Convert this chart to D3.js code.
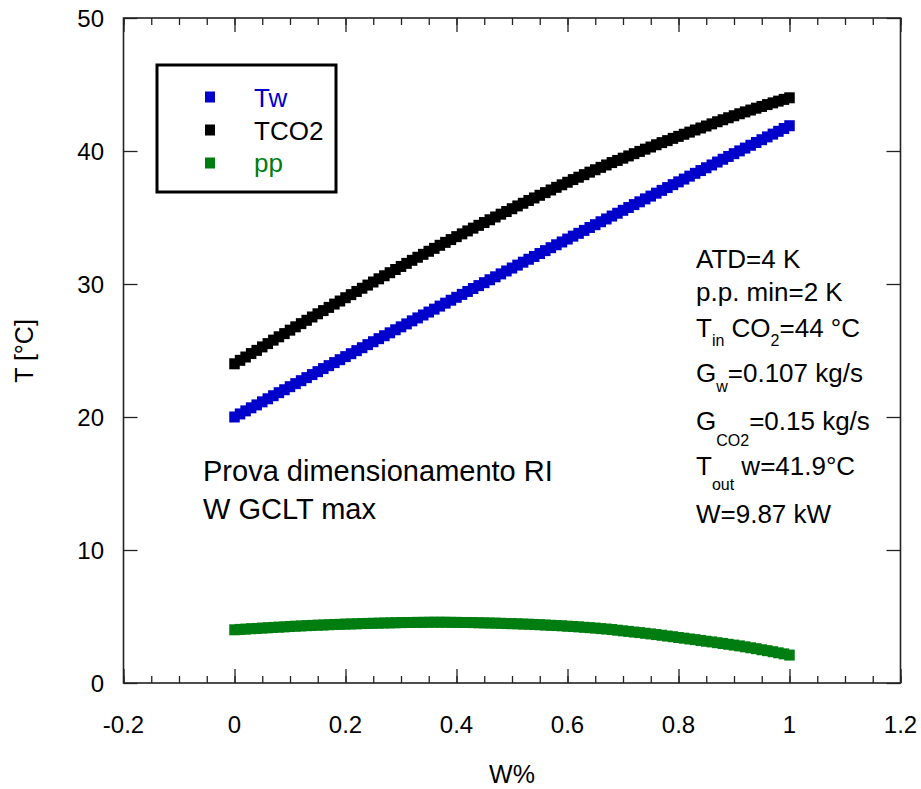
<!DOCTYPE html>
<html>
<head>
<meta charset="utf-8">
<script src="https://cdn.jsdelivr.net/npm/d3@7"></script>
<style>
  html, body { margin: 0; padding: 0; background: #fff; }
  svg { display: block; font-family: "Liberation Sans", Arial, sans-serif; }
</style>
</head>
<body>
<svg id="chart" width="921" height="789"></svg>
<script>
// Sample grid: fraction of exchanged heat W%
const wFrac = d3.range(0, 101).map(i => i / 100);

// Water temperature along the gas cooler [°C]
const tw = [
  20.00, 20.23, 20.46, 20.69, 20.91, 21.14, 21.37, 21.60, 21.83, 22.05,
  22.28, 22.51, 22.73, 22.96, 23.19, 23.41, 23.64, 23.86, 24.09, 24.31,
  24.54, 24.76, 24.99, 25.21, 25.44, 25.66, 25.89, 26.11, 26.33, 26.56,
  26.78, 27.00, 27.23, 27.45, 27.67, 27.89, 28.11, 28.34, 28.56, 28.78,
  29.00, 29.22, 29.44, 29.66, 29.88, 30.10, 30.32, 30.54, 30.76, 30.98,
  31.20, 31.42, 31.64, 31.86, 32.07, 32.29, 32.51, 32.73, 32.95, 33.16,
  33.38, 33.60, 33.81, 34.03, 34.25, 34.46, 34.68, 34.89, 35.11, 35.32,
  35.54, 35.75, 35.97, 36.18, 36.40, 36.61, 36.83, 37.04, 37.25, 37.47,
  37.68, 37.89, 38.11, 38.32, 38.53, 38.74, 38.95, 39.17, 39.38, 39.59,
  39.80, 40.01, 40.22, 40.43, 40.64, 40.85, 41.06, 41.27, 41.48, 41.69,
  41.90
];

// CO2 temperature along the gas cooler [°C]
const tco2 = [
  24.00, 24.26, 24.51, 24.77, 25.01, 25.27, 25.52, 25.78, 26.03, 26.27,
  26.53, 26.78, 27.02, 27.27, 27.52, 27.76, 28.00, 28.24, 28.49, 28.72,
  28.97, 29.20, 29.44, 29.68, 29.92, 30.15, 30.39, 30.62, 30.85, 31.09,
  31.32, 31.55, 31.78, 32.01, 32.23, 32.46, 32.68, 32.91, 33.13, 33.34,
  33.56, 33.77, 33.99, 34.20, 34.41, 34.62, 34.83, 35.04, 35.25, 35.45,
  35.66, 35.87, 36.07, 36.28, 36.47, 36.67, 36.87, 37.07, 37.27, 37.46,
  37.65, 37.85, 38.03, 38.22, 38.41, 38.59, 38.77, 38.95, 39.13, 39.29,
  39.46, 39.63, 39.80, 39.97, 40.14, 40.30, 40.47, 40.63, 40.78, 40.95,
  41.10, 41.26, 41.42, 41.58, 41.73, 41.88, 42.04, 42.20, 42.35, 42.50,
  42.65, 42.80, 42.94, 43.08, 43.22, 43.35, 43.49, 43.62, 43.75, 43.88,
  44.00
];

// Pinch point (temperature difference) [K]
const pp = [
  4.00, 4.03, 4.05, 4.08, 4.10, 4.13, 4.15, 4.18, 4.20, 4.22,
  4.25, 4.27, 4.29, 4.31, 4.33, 4.35, 4.36, 4.38, 4.40, 4.41,
  4.43, 4.44, 4.45, 4.47, 4.48, 4.49, 4.50, 4.51, 4.52, 4.53,
  4.54, 4.55, 4.55, 4.56, 4.56, 4.57, 4.57, 4.57, 4.57, 4.56,
  4.56, 4.55, 4.55, 4.54, 4.53, 4.52, 4.51, 4.50, 4.49, 4.47,
  4.46, 4.45, 4.43, 4.42, 4.40, 4.38, 4.36, 4.34, 4.32, 4.30,
  4.27, 4.25, 4.22, 4.19, 4.16, 4.13, 4.09, 4.06, 4.02, 3.97,
  3.92, 3.88, 3.83, 3.79, 3.74, 3.69, 3.64, 3.59, 3.53, 3.48,
  3.42, 3.37, 3.31, 3.26, 3.20, 3.14, 3.09, 3.03, 2.97, 2.91,
  2.85, 2.79, 2.72, 2.65, 2.58, 2.50, 2.43, 2.35, 2.27, 2.19,
  2.10
];

const seriesNames = ["Tw", "TCO2", "pp"];
const seriesColors = ["#0000cc", "#000000", "#007d10"];
const seriesValues = [tw, tco2, pp];

const xTicks = [-0.2, 0, 0.2, 0.4, 0.6, 0.8, 1, 1.2];
const yTicks = [0, 10, 20, 30, 40, 50];

const svg = d3.select("#chart");
const plotL = 123.5, plotR = 900.5, plotT = 18, plotB = 683;

const x = d3.scaleLinear().domain([-0.2, 1.2]).range([plotL, plotR]);
const y = d3.scaleLinear().domain([0, 50]).range([plotB, plotT]);

// Markers: dense filled squares
const mw = 10.5, mh = 11;
seriesValues.forEach((vals, k) => {
  svg.append("g")
    .attr("fill", seriesColors[k])
    .selectAll("rect")
    .data(vals)
    .join("rect")
    .attr("x", (d, i) => x(wFrac[i]) - mw / 2)
    .attr("y", d => y(d) - mh / 2)
    .attr("width", mw)
    .attr("height", mh);
});

// Axes with inward ticks on all four sides
const minorX = d3.range(-0.2, 1.2001, 0.05);

function styleAxis(g) {
  g.select(".domain").remove();
  g.selectAll(".tick line").attr("stroke", "#222").attr("stroke-width", 1.3);
}

svg.append("g").attr("transform", `translate(0,${plotB})`)
  .call(d3.axisBottom(x).tickValues(minorX).tickSize(-7).tickFormat("")).call(styleAxis);
svg.append("g").attr("transform", `translate(0,${plotB})`)
  .call(d3.axisBottom(x).tickValues(xTicks).tickSize(-14).tickFormat("")).call(styleAxis);
svg.append("g").attr("transform", `translate(0,${plotT})`)
  .call(d3.axisTop(x).tickValues(minorX).tickSize(-7).tickFormat("")).call(styleAxis);
svg.append("g").attr("transform", `translate(0,${plotT})`)
  .call(d3.axisTop(x).tickValues(xTicks).tickSize(-14).tickFormat("")).call(styleAxis);
svg.append("g").attr("transform", `translate(${plotL},0)`)
  .call(d3.axisLeft(y).tickValues(yTicks).tickSize(-14).tickFormat("")).call(styleAxis);
svg.append("g").attr("transform", `translate(${plotR},0)`)
  .call(d3.axisRight(y).tickValues(yTicks).tickSize(-14).tickFormat("")).call(styleAxis);

// Frame
svg.append("rect")
  .attr("x", plotL).attr("y", plotT)
  .attr("width", plotR - plotL).attr("height", plotB - plotT)
  .attr("fill", "none").attr("stroke", "#222").attr("stroke-width", 1.6);

// Tick labels
const fmt = d => String(d);
svg.append("g").selectAll("text").data(xTicks).join("text")
  .attr("x", d => x(d)).attr("y", 733)
  .attr("text-anchor", "middle").attr("font-size", 24)
  .text(fmt);
svg.append("g").selectAll("text").data(yTicks).join("text")
  .attr("x", 104).attr("y", d => y(d) + 8.6)
  .attr("text-anchor", "end").attr("font-size", 24)
  .text(fmt);

// Axis titles
svg.append("text").attr("x", 512).attr("y", 783)
  .attr("text-anchor", "middle").attr("font-size", 25).text("W%");
svg.append("text")
  .attr("transform", "translate(33,351) rotate(-90)")
  .attr("text-anchor", "middle").attr("font-size", 25).text("T [°C]");

// Legend
const legend = svg.append("g");
legend.append("rect")
  .attr("x", 157).attr("y", 65).attr("width", 179).attr("height", 127)
  .attr("fill", "#fff").attr("stroke", "#000").attr("stroke-width", 3);
const legY = [97, 130, 163];
const legBase = [107, 140, 172];
seriesNames.forEach((name, k) => {
  legend.append("rect")
    .attr("x", 205).attr("y", legY[k] - 5.5).attr("width", 10).attr("height", 11)
    .attr("fill", seriesColors[k]);
  legend.append("text")
    .attr("x", 254).attr("y", legBase[k]).attr("font-size", 26)
    .attr("fill", seriesColors[k]).text(name);
});

// Case description
const note = svg.append("g").attr("font-size", 29);
note.append("text").attr("x", 203).attr("y", 481).text("Prova dimensionamento RI");
note.append("text").attr("x", 203).attr("y", 519).text("W GCLT max");

// Operating parameters, with subscripts
const params = [
  { base: 268, parts: [["ATD=4 K"]] },
  { base: 301, parts: [["p.p. min=2 K"]] },
  { base: 337, parts: [["T"], ["in", 9], [" CO"], ["2", 9], ["=44 °C"]] },
  { base: 382, parts: [["G"], ["w", 10], ["=0.107 kg/s"]] },
  { base: 430, parts: [["G"], ["CO2", 16], ["=0.15 kg/s"]] },
  { base: 475, parts: [["T"], ["out", 15], [" w=41.9°C"]] },
  { base: 523, parts: [["W=9.87 kW"]] }
];
const paramG = svg.append("g").attr("font-size", 26);
params.forEach(p => {
  const t = paramG.append("text").attr("x", 696).attr("y", p.base);
  p.parts.forEach(([s, sub]) => {
    const ts = t.append("tspan").text(s);
    if (sub !== undefined) {
      ts.attr("font-size", 16).attr("y", p.base + sub);
    } else {
      ts.attr("y", p.base);
    }
  });
});
</script>
</body>
</html>
